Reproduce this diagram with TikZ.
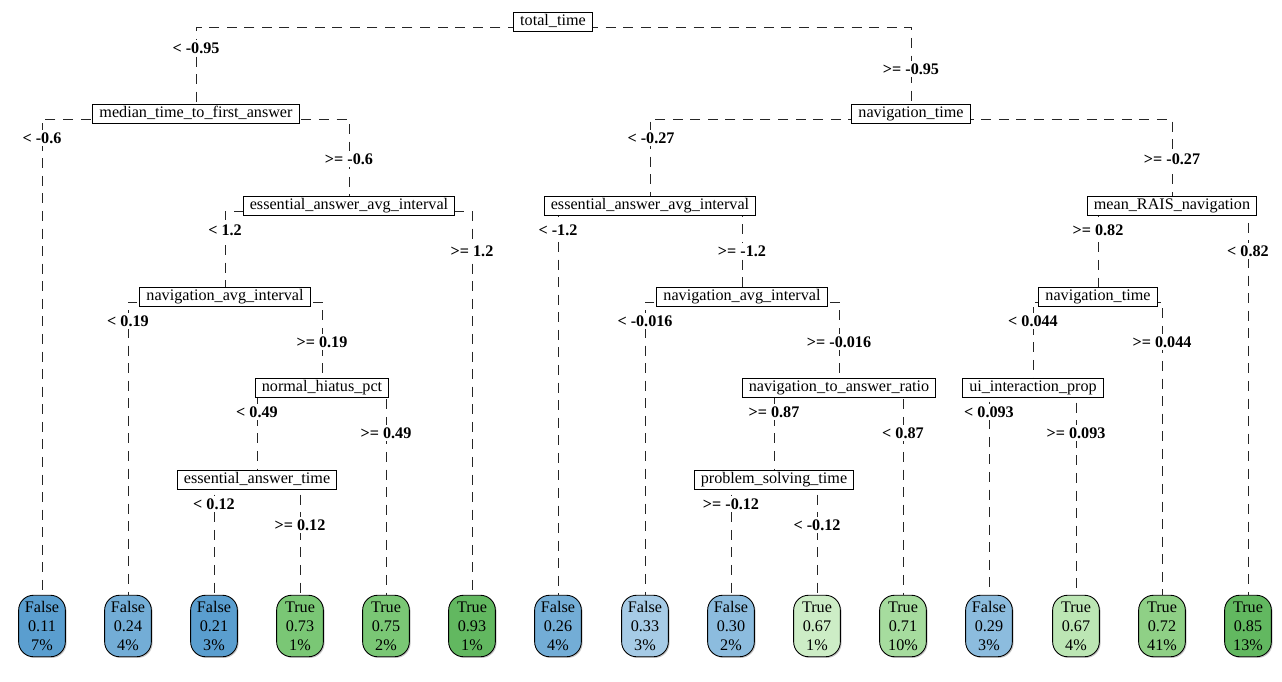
\documentclass[tikz,border=0pt]{standalone}
\usepackage{fontspec}
\setmainfont{Liberation Serif}
\usetikzlibrary{backgrounds,shadows}

\definecolor{fblue1}{HTML}{5A9ECF}
\definecolor{fblue2}{HTML}{73ADD6}
\definecolor{fblue3}{HTML}{8CBCDE}
\definecolor{fblue4}{HTML}{A6CBE6}
\definecolor{tgreen1}{HTML}{CDEDC6}
\definecolor{tgreen2}{HTML}{BCE6B4}
\definecolor{tgreen3}{HTML}{A6DC9E}
\definecolor{tgreen4}{HTML}{8FD086}
\definecolor{tgreen5}{HTML}{7AC775}
\definecolor{tgreen6}{HTML}{62B860}

\begin{document}
\begin{tikzpicture}[x=0.02cm, y=-0.02cm,
    font=\fontsize{9.2}{10.8}\selectfont,
    split/.style={rectangle, draw, fill=white, line width=0.5pt,
                  inner xsep=3.8pt, inner ysep=1.5pt,
                  text height=6.3pt, text depth=2pt},
    leaf/.style={rectangle, rounded corners=8.5pt, draw, line width=0.5pt,
                 align=center, minimum width=26.6pt, minimum height=35pt,
                 inner xsep=2pt,
                 drop shadow={shadow xshift=0.7pt, shadow yshift=-0.7pt, fill=black!45}},
    cond/.style={fill=white, inner xsep=1pt, inner ysep=1.5pt,
                 font=\fontsize{9.2}{10.8}\selectfont\bfseries},
    branch/.style={dash pattern=on 5.7pt off 4.3pt, line width=0.45pt, draw=black!85}]

  \useasboundingbox (0,0) rectangle (1282,682);

  % split nodes
  \node[split] (tt)  at (553,22)   {total\_time};
  \node[split] (mt)  at (196,114)  {median\_time\_to\_first\_answer};
  \node[split] (nt)  at (911,114)  {navigation\_time};
  \node[split] (eaL) at (349,206)  {essential\_answer\_avg\_interval};
  \node[split] (eaR) at (650,206)  {essential\_answer\_avg\_interval};
  \node[split] (mr)  at (1172,206) {mean\_RAIS\_navigation};
  \node[split] (naL) at (225,297)  {navigation\_avg\_interval};
  \node[split] (naR) at (742,297)  {navigation\_avg\_interval};
  \node[split] (nt2) at (1098,297) {navigation\_time};
  \node[split] (nh)  at (322,388)  {normal\_hiatus\_pct};
  \node[split] (nr)  at (839,388)  {navigation\_to\_answer\_ratio};
  \node[split] (ui)  at (1033,388) {ui\_interaction\_prop};
  \node[split] (et)  at (257,480)  {essential\_answer\_time};
  \node[split] (ps)  at (774,480)  {problem\_solving\_time};

  % leaves
  \node[leaf, fill=fblue1]  (l1)  at (42,626)   {False\\0.11\\7\%};
  \node[leaf, fill=fblue2]  (l2)  at (128,626)  {False\\0.24\\4\%};
  \node[leaf, fill=fblue1]  (l3)  at (214,626)  {False\\0.21\\3\%};
  \node[leaf, fill=tgreen5] (l4)  at (300,626)  {True\\0.73\\1\%};
  \node[leaf, fill=tgreen5] (l5)  at (386,626)  {True\\0.75\\2\%};
  \node[leaf, fill=tgreen6] (l6)  at (472,626)  {True\\0.93\\1\%};
  \node[leaf, fill=fblue2]  (l7)  at (558,626)  {False\\0.26\\4\%};
  \node[leaf, fill=fblue4]  (l8)  at (645,626)  {False\\0.33\\3\%};
  \node[leaf, fill=fblue3]  (l9)  at (731,626)  {False\\0.30\\2\%};
  \node[leaf, fill=tgreen1] (l10) at (817,626)  {True\\0.67\\1\%};
  \node[leaf, fill=tgreen3] (l11) at (903,626)  {True\\0.71\\10\%};
  \node[leaf, fill=fblue3]  (l12) at (989,626)  {False\\0.29\\3\%};
  \node[leaf, fill=tgreen2] (l13) at (1076,626) {True\\0.67\\4\%};
  \node[leaf, fill=tgreen4] (l14) at (1162,626) {True\\0.72\\41\%};
  \node[leaf, fill=tgreen6] (l15) at (1248,626) {True\\0.85\\13\%};

  % split conditions
  \node[cond] (c1)  at (196,48)   {< -0.95};
  \node[cond] (c2)  at (911,69)   {>= -0.95};
  \node[cond] (c3)  at (42,138)   {< -0.6};
  \node[cond] (c4)  at (349,159)  {>= -0.6};
  \node[cond] (c5)  at (651,138)  {< -0.27};
  \node[cond] (c6)  at (1172,159) {>= -0.27};
  \node[cond] (c7)  at (225,230)  {< 1.2};
  \node[cond] (c8)  at (472,251)  {>= 1.2};
  \node[cond] (c9)  at (558,230)  {< -1.2};
  \node[cond] (c10) at (742,251)  {>= -1.2};
  \node[cond] (c11) at (1098,230) {>= 0.82};
  \node[cond] (c12) at (1248,251) {< 0.82};
  \node[cond] (c13) at (128,321)  {< 0.19};
  \node[cond] (c14) at (322,342)  {>= 0.19};
  \node[cond] (c15) at (645,321)  {< -0.016};
  \node[cond] (c16) at (839,342)  {>= -0.016};
  \node[cond] (c17) at (1033,321) {< 0.044};
  \node[cond] (c18) at (1162,342) {>= 0.044};
  \node[cond] (c19) at (257,412)  {< 0.49};
  \node[cond] (c20) at (386,433)  {>= 0.49};
  \node[cond] (c21) at (774,412)  {>= 0.87};
  \node[cond] (c22) at (903,433)  {< 0.87};
  \node[cond] (c23) at (989,412)  {< 0.093};
  \node[cond] (c24) at (1076,433) {>= 0.093};
  \node[cond] (c25) at (214,504)  {< 0.12};
  \node[cond] (c26) at (300,525)  {>= 0.12};
  \node[cond] (c27) at (731,504)  {>= -0.12};
  \node[cond] (c28) at (817,525)  {< -0.12};

  \begin{scope}[on background layer]
    % left part of the tree
    \draw[branch] ([yshift=-1mm]tt.center)  -| (mt.north);
    \draw[branch] ([yshift=-1mm]tt.center)  -| (nt.north);
    \draw[branch] ([yshift=-1mm]mt.center)  -| (l1.north);
    \draw[branch] ([yshift=-1mm]mt.center)  -| (eaL.north);
    \draw[branch] ([yshift=-1mm]eaL.center) -| (naL.north);
    \draw[branch] ([yshift=-1mm]eaL.center) -| (l6.north);
    \draw[branch] ([yshift=-1mm]naL.center) -| (l2.north);
    \draw[branch] ([yshift=-1mm]naL.center) -| (nh.north);
    \draw[branch] ([yshift=-1mm]nh.center)  -| (et.north);
    \draw[branch] ([yshift=-1mm]nh.center)  -| (l5.north);
    \draw[branch] ([yshift=-1mm]et.center)  -| (l3.north);
    \draw[branch] ([yshift=-1mm]et.center)  -| (l4.north);
    % right part of the tree
    \draw[branch] ([yshift=-1mm]nt.center)  -| (eaR.north);
    \draw[branch] ([yshift=-1mm]nt.center)  -| (mr.north);
    \draw[branch] ([yshift=-1mm]eaR.center) -| (l7.north);
    \draw[branch] ([yshift=-1mm]eaR.center) -| (naR.north);
    \draw[branch] ([yshift=-1mm]naR.center) -| (l8.north);
    \draw[branch] ([yshift=-1mm]naR.center) -| (nr.north);
    \draw[branch] ([yshift=-1mm]nr.center)  -| (ps.north);
    \draw[branch] ([yshift=-1mm]nr.center)  -| (l11.north);
    \draw[branch] ([yshift=-1mm]ps.center)  -| (l9.north);
    \draw[branch] ([yshift=-1mm]ps.center)  -| (l10.north);
    \draw[branch] ([yshift=-1mm]mr.center)  -| (nt2.north);
    \draw[branch] ([yshift=-1mm]mr.center)  -| (l15.north);
    \draw[branch] ([yshift=-1mm]nt2.center) -| (ui.north);
    \draw[branch] ([yshift=-1mm]nt2.center) -| (l14.north);
    \draw[branch] ([yshift=-1mm]ui.center)  -| (l12.north);
    \draw[branch] ([yshift=-1mm]ui.center)  -| (l13.north);
  \end{scope}

\end{tikzpicture}
\end{document}
